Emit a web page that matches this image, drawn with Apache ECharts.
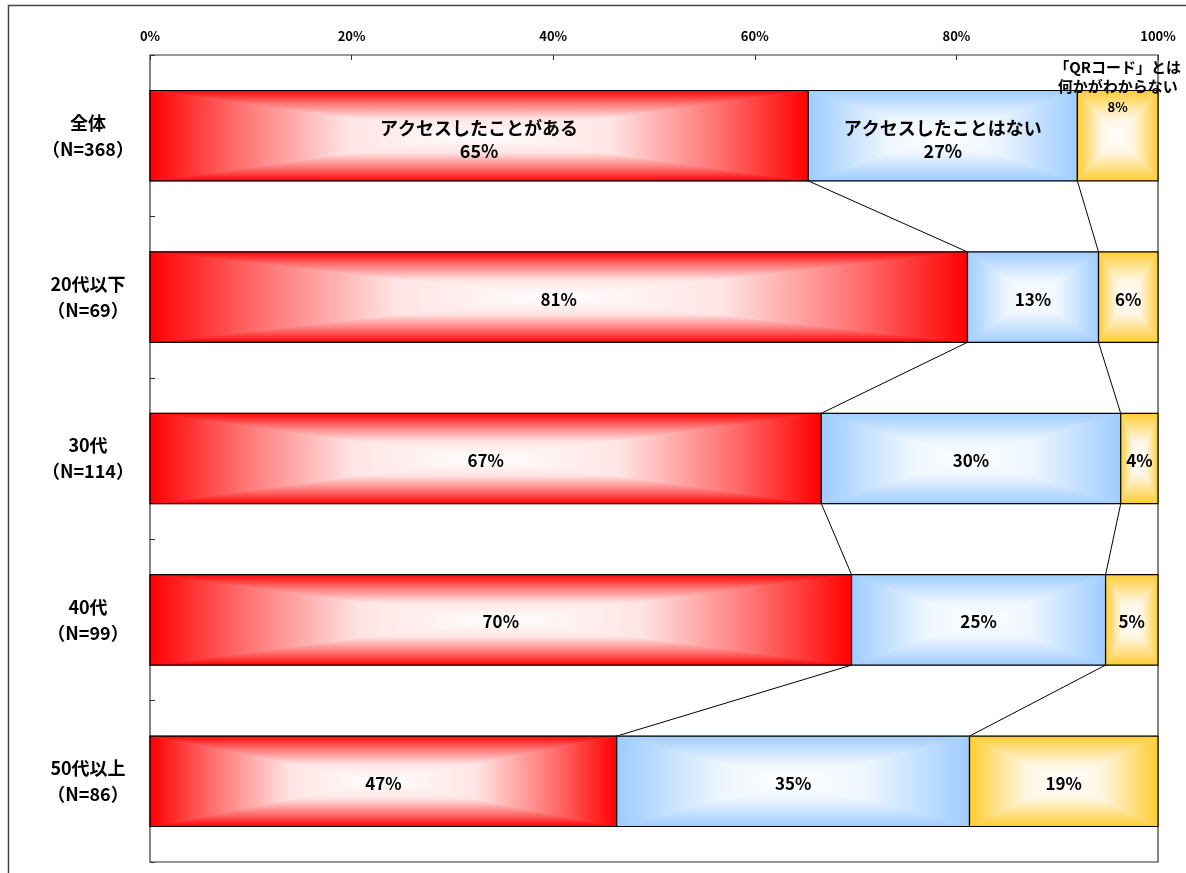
<!DOCTYPE html>
<html>
<head>
<meta charset="utf-8">
<script src="https://cdn.jsdelivr.net/npm/echarts@6/dist/echarts.min.js"></script>
<style>
html,body{margin:0;padding:0;background:#fff;}
#chart{width:1186px;height:873px;}
</style>
</head>
<body>
<div id="chart"></div>
<script>
// ---- data ----
const categories = ['全体', '20代以下', '30代', '40代', '50代以上'];
const sampleSizes = ['（N=368）', '（N=69）', '（N=114）', '（N=99）', '（N=86）'];
const seriesNames = ['アクセスしたことがある', 'アクセスしたことはない', '「QRコード」とは何かがわからない'];
const accessed = [65.3, 81.1, 66.6, 69.6, 46.3];
const notAccessed = [26.7, 13.0, 29.7, 25.2, 35.0];
const unknown = [8.0, 5.9, 3.7, 5.2, 18.7];
const accessedLabels = ['65%', '81%', '67%', '70%', '47%'];
const notAccessedLabels = ['27%', '13%', '30%', '25%', '35%'];
const unknownLabels = ['8%', '6%', '4%', '5%', '19%'];
const xTickValues = [0, 20, 40, 60, 80, 100];

// ---- chart ----
const valueSets = [accessed, notAccessed, unknown];
const labelSets = [accessedLabels, notAccessedLabels, unknownLabels];
const palette = ['#FF0000', '#9ECCFF', '#FFCC2E'];
const midPalette = ['#FF7070', '#C2DFFF', '#FFDF85'];
const tintPalette = ['#FFE4E4', '#EEF6FF', '#FFF6E2'];
const FONT = '"Noto Sans CJK JP", "Noto Sans", sans-serif';
const BAR_RATIO = 0.56;

function cumStart(ci, si) {
  let s = 0;
  for (let k = 0; k < si; k++) s += valueSets[k][ci];
  return s;
}

function makeRender(si) {
  return function (params, api) {
    const ci = api.value(2);
    const p0 = api.coord([api.value(0), ci]);
    const p1 = api.coord([api.value(1), ci]);
    const bandH = api.size([0, 1])[1];
    const h = bandH * BAR_RATIO;
    const x0 = p0[0], x1 = p1[0];
    const y0 = p0[1] - h / 2, y1 = p0[1] + h / 2;
    const cx = (x0 + x1) / 2, cy = (y0 + y1) / 2;
    const edge = palette[si];
    const grad = (a, b, c, d, w) => new echarts.graphic.LinearGradient(a, b, c, d, [
      { offset: 0, color: edge }, { offset: w * 0.45, color: midPalette[si] }, { offset: w, color: tintPalette[si] }, { offset: 1, color: '#ffffff' }
    ]);
    const children = [];
    const tri = (pts, g) => ({ type: 'polygon', shape: { points: pts }, style: { fill: g, stroke: g, lineWidth: 0.8 } });
    children.push(tri([[x0, y0], [x1, y0], [cx, cy]], grad(0, 0, 0, 1, 0.62)));
    children.push(tri([[x0, y1], [x1, y1], [cx, cy]], grad(0, 1, 0, 0, 0.62)));
    children.push(tri([[x0, y0], [x0, y1], [cx, cy]], grad(0, 0, 1, 0, 0.6)));
    children.push(tri([[x1, y0], [x1, y1], [cx, cy]], grad(1, 0, 0, 0, 0.6)));
    children.push({ type: 'rect', shape: { x: x0, y: y0, width: x1 - x0, height: h }, style: { fill: 'none', stroke: '#000', lineWidth: 1.2 } });

    // connector lines to next category
    if (si < 2 && ci < categories.length - 1) {
      const endNext = cumStart(ci + 1, si) + valueSets[si][ci + 1];
      const q = api.coord([endNext, ci + 1]);
      children.push({ type: 'line', shape: { x1: x1, y1: y1, x2: q[0], y2: q[1] - h / 2 }, style: { stroke: '#000', lineWidth: 1 } });
    }

    const label = labelSets[si][ci];
    if (ci === 0 && si < 2) {
      children.push({ type: 'text', style: { text: seriesNames[si] + '\n' + label, x: cx, y: cy + 4, align: 'center', verticalAlign: 'middle', fontSize: 18, fontWeight: 'bold', fontFamily: FONT, fill: '#000', lineHeight: 23 } });
    } else if (ci === 0 && si === 2) {
      children.push({ type: 'text', style: { text: '「QRコード」とは\n何かがわからない', x: cx, y: y0 + 5, align: 'center', verticalAlign: 'bottom', fontSize: 15, fontWeight: 'bold', fontFamily: FONT, fill: '#000', lineHeight: 19 } });
      children.push({ type: 'text', style: { text: label, x: cx, y: y0 + 17, align: 'center', verticalAlign: 'middle', fontSize: 13, fontWeight: 'bold', fontFamily: FONT, fill: '#000' } });
    } else {
      children.push({ type: 'text', style: { text: label, x: cx, y: cy + 2, align: 'center', verticalAlign: 'middle', fontSize: 17, fontWeight: 'bold', fontFamily: FONT, fill: '#000' } });
    }
    return { type: 'group', children: children };
  };
}

const series = seriesNames.map((name, si) => ({
  type: 'custom',
  name: name,
  encode: { x: [0, 1], y: 2 },
  data: categories.map((c, ci) => [cumStart(ci, si), cumStart(ci, si) + valueSets[si][ci], ci]),
  renderItem: makeRender(si),
  clip: false
}));

const chart = echarts.init(document.getElementById('chart'), null, { renderer: 'canvas' });
chart.setOption({
  animation: false,
  backgroundColor: '#fff',
  grid: { left: 150, right: 28, top: 55, bottom: 11, show: true, borderColor: '#333', borderWidth: 1.2, backgroundColor: 'transparent' },
  xAxis: {
    type: 'value', position: 'top', min: xTickValues[0], max: xTickValues[xTickValues.length - 1], interval: 20,
    axisLine: { show: false },
    axisTick: { show: true, inside: true, length: 5, lineStyle: { color: '#333' } },
    splitLine: { show: false },
    axisLabel: { formatter: '{value}%', fontSize: 13, fontWeight: 'bold', fontFamily: FONT, color: '#000', margin: 12 }
  },
  yAxis: {
    type: 'category', inverse: true, data: categories,
    axisLine: { show: false },
    axisTick: { show: true, inside: true, length: 5, lineStyle: { color: '#333' } },
    axisLabel: {
      formatter: (v, i) => v + '\n' + sampleSizes[i],
      align: 'center', margin: 62, fontSize: 18, fontWeight: 'bold', fontFamily: FONT, color: '#000', lineHeight: 26
    }
  },
  graphic: [{ type: 'rect', shape: { x: 8.5, y: 5.5, width: 1300, height: 1000 }, style: { fill: 'none', stroke: '#444', lineWidth: 1.5 }, silent: true }],
  series: series
});
</script>
</body>
</html>
